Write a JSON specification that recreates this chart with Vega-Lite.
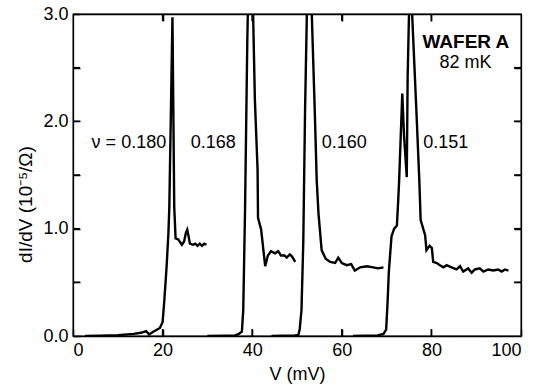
{
  "$schema": "https://vega.github.io/schema/vega-lite/v6.json",
  "width": 448,
  "height": 322,
  "autosize": "none",
  "padding": {"left": 73, "top": 14, "right": 16, "bottom": 49},
  "background": "white",
  "config": {
    "font": "Liberation Sans",
    "view": {"stroke": "black", "strokeWidth": 1.3},
    "axis": {
      "grid": false, "domain": true, "domainColor": "black", "domainWidth": 1.3,
      "ticks": true, "tickColor": "black", "tickSize": -7, "tickWidth": 1.5,
      "labelFont": "Liberation Sans", "labelFontSize": 18, "labelColor": "black", "labelPadding": 12,
      "titleFont": "Liberation Sans", "titleFontSize": 18, "titleFontWeight": "normal", "titleColor": "black"
    }
  },
  "datasets": {
    "curves": [
      {"s": "a", "x": 2.7, "y": 0.0}, {"s": "a", "x": 6, "y": 0.003}, {"s": "a", "x": 10, "y": 0.008},
      {"s": "a", "x": 13.5, "y": 0.02}, {"s": "a", "x": 15.2, "y": 0.03}, {"s": "a", "x": 16.3, "y": 0.045},
      {"s": "a", "x": 17.0, "y": 0.015}, {"s": "a", "x": 17.9, "y": 0.04}, {"s": "a", "x": 18.8, "y": 0.06},
      {"s": "a", "x": 19.4, "y": 0.075}, {"s": "a", "x": 20.0, "y": 0.13}, {"s": "a", "x": 20.4, "y": 0.34},
      {"s": "a", "x": 20.9, "y": 0.65}, {"s": "a", "x": 21.3, "y": 0.96}, {"s": "a", "x": 21.5, "y": 1.2},
      {"s": "a", "x": 22.2, "y": 2.97}, {"s": "a", "x": 22.6, "y": 1.2}, {"s": "a", "x": 22.9, "y": 0.91},
      {"s": "a", "x": 23.5, "y": 0.9}, {"s": "a", "x": 24.3, "y": 0.85}, {"s": "a", "x": 24.8, "y": 0.88},
      {"s": "a", "x": 25.2, "y": 0.96}, {"s": "a", "x": 25.5, "y": 0.99}, {"s": "a", "x": 25.8, "y": 0.93},
      {"s": "a", "x": 26.1, "y": 0.86}, {"s": "a", "x": 26.8, "y": 0.85}, {"s": "a", "x": 27.3, "y": 0.86},
      {"s": "a", "x": 27.8, "y": 0.84}, {"s": "a", "x": 28.3, "y": 0.86}, {"s": "a", "x": 28.8, "y": 0.84},
      {"s": "a", "x": 29.3, "y": 0.86}, {"s": "a", "x": 29.8, "y": 0.85},

      {"s": "b", "x": 30, "y": 0.0}, {"s": "b", "x": 34, "y": 0.003}, {"s": "b", "x": 36.2, "y": 0.005},
      {"s": "b", "x": 37.0, "y": 0.02}, {"s": "b", "x": 37.7, "y": 0.04}, {"s": "b", "x": 38.0, "y": 0.24},
      {"s": "b", "x": 38.4, "y": 1.17}, {"s": "b", "x": 38.9, "y": 2.73}, {"s": "b", "x": 39.6, "y": 4.3},
      {"s": "b", "x": 40.2, "y": 3.0}, {"s": "b", "x": 40.6, "y": 2.2}, {"s": "b", "x": 41.2, "y": 1.55},
      {"s": "b", "x": 41.3, "y": 1.1}, {"s": "b", "x": 42.0, "y": 0.99}, {"s": "b", "x": 42.5, "y": 0.8},
      {"s": "b", "x": 42.9, "y": 0.65}, {"s": "b", "x": 43.5, "y": 0.75}, {"s": "b", "x": 44.2, "y": 0.79},
      {"s": "b", "x": 45.1, "y": 0.77}, {"s": "b", "x": 45.8, "y": 0.79}, {"s": "b", "x": 46.4, "y": 0.75},
      {"s": "b", "x": 47.2, "y": 0.75}, {"s": "b", "x": 47.7, "y": 0.73}, {"s": "b", "x": 48.4, "y": 0.76},
      {"s": "b", "x": 48.9, "y": 0.74}, {"s": "b", "x": 49.6, "y": 0.69},

      {"s": "c", "x": 44.3, "y": 0.0}, {"s": "c", "x": 47, "y": 0.003}, {"s": "c", "x": 49.5, "y": 0.005},
      {"s": "c", "x": 50.3, "y": 0.01}, {"s": "c", "x": 50.6, "y": 0.06}, {"s": "c", "x": 51.0, "y": 0.24},
      {"s": "c", "x": 51.4, "y": 0.87}, {"s": "c", "x": 51.8, "y": 2.1}, {"s": "c", "x": 52.2, "y": 3.0},
      {"s": "c", "x": 52.6, "y": 3.9}, {"s": "c", "x": 53.3, "y": 3.0}, {"s": "c", "x": 54.0, "y": 2.05},
      {"s": "c", "x": 54.4, "y": 1.45}, {"s": "c", "x": 54.8, "y": 1.14}, {"s": "c", "x": 55.5, "y": 0.8},
      {"s": "c", "x": 56.4, "y": 0.72}, {"s": "c", "x": 57.4, "y": 0.69}, {"s": "c", "x": 58.5, "y": 0.68},
      {"s": "c", "x": 59.2, "y": 0.73}, {"s": "c", "x": 60.0, "y": 0.68}, {"s": "c", "x": 61.1, "y": 0.66},
      {"s": "c", "x": 62.1, "y": 0.67}, {"s": "c", "x": 62.9, "y": 0.61}, {"s": "c", "x": 64.1, "y": 0.64},
      {"s": "c", "x": 65.6, "y": 0.65}, {"s": "c", "x": 67.0, "y": 0.64}, {"s": "c", "x": 68.1, "y": 0.63},
      {"s": "c", "x": 69.3, "y": 0.64},

      {"s": "d", "x": 62.5, "y": 0.0}, {"s": "d", "x": 65, "y": 0.003}, {"s": "d", "x": 68, "y": 0.006},
      {"s": "d", "x": 69.3, "y": 0.02}, {"s": "d", "x": 69.9, "y": 0.06}, {"s": "d", "x": 70.2, "y": 0.3},
      {"s": "d", "x": 70.5, "y": 0.6}, {"s": "d", "x": 71.1, "y": 0.93}, {"s": "d", "x": 71.7, "y": 1.0},
      {"s": "d", "x": 72.3, "y": 1.03}, {"s": "d", "x": 72.6, "y": 1.27}, {"s": "d", "x": 72.8, "y": 1.45},
      {"s": "d", "x": 73.5, "y": 2.26}, {"s": "d", "x": 73.9, "y": 1.86}, {"s": "d", "x": 74.5, "y": 1.48},
      {"s": "d", "x": 74.7, "y": 2.42}, {"s": "d", "x": 75.0, "y": 3.0}, {"s": "d", "x": 75.22, "y": 3.43},
      {"s": "d", "x": 75.7, "y": 3.0}, {"s": "d", "x": 76.7, "y": 2.05}, {"s": "d", "x": 77.3, "y": 1.45},
      {"s": "d", "x": 77.6, "y": 1.08}, {"s": "d", "x": 78.6, "y": 0.94}, {"s": "d", "x": 78.9, "y": 0.8},
      {"s": "d", "x": 79.6, "y": 0.84}, {"s": "d", "x": 80.1, "y": 0.82}, {"s": "d", "x": 80.4, "y": 0.69},
      {"s": "d", "x": 81.2, "y": 0.68}, {"s": "d", "x": 81.9, "y": 0.66}, {"s": "d", "x": 82.7, "y": 0.64},
      {"s": "d", "x": 83.4, "y": 0.66}, {"s": "d", "x": 84.5, "y": 0.64}, {"s": "d", "x": 85.6, "y": 0.62},
      {"s": "d", "x": 86.4, "y": 0.65}, {"s": "d", "x": 87.1, "y": 0.6}, {"s": "d", "x": 88.2, "y": 0.63},
      {"s": "d", "x": 89.0, "y": 0.59}, {"s": "d", "x": 89.7, "y": 0.62}, {"s": "d", "x": 90.8, "y": 0.63},
      {"s": "d", "x": 91.6, "y": 0.6}, {"s": "d", "x": 92.7, "y": 0.62}, {"s": "d", "x": 93.8, "y": 0.61},
      {"s": "d", "x": 94.9, "y": 0.62}, {"s": "d", "x": 95.7, "y": 0.6}, {"s": "d", "x": 96.4, "y": 0.62},
      {"s": "d", "x": 97.2, "y": 0.61}
    ],
    "labels": [
      {"t": "ν = 0.180", "x": 20.8, "y": 1.80, "a": "right"},
      {"t": "0.168", "x": 26.3, "y": 1.80, "a": "left"},
      {"t": "0.160", "x": 55.5, "y": 1.80, "a": "left"},
      {"t": "0.151", "x": 78.2, "y": 1.80, "a": "left"},
      {"t": "82 mK", "x": 87.6, "y": 2.54, "a": "center"}
    ],
    "bold": [
      {"t": "WAFER A", "x": 87.7, "y": 2.74}
    ],
    "vticks": [
      {"x": 20, "y": 0}, {"x": 40, "y": 0}, {"x": 60, "y": 0}, {"x": 80, "y": 0},
      {"x": 20, "y": 3}, {"x": 40, "y": 3}, {"x": 60, "y": 3}, {"x": 80, "y": 3}
    ],
    "hticks": [
      {"x": 0, "y": 0.5}, {"x": 0, "y": 1}, {"x": 0, "y": 1.5}, {"x": 0, "y": 2}, {"x": 0, "y": 2.5},
      {"x": 100, "y": 0.5}, {"x": 100, "y": 1}, {"x": 100, "y": 1.5}, {"x": 100, "y": 2}, {"x": 100, "y": 2.5}
    ]
  },
  "layer": [
    {
      "data": {"name": "curves"},
      "mark": {"type": "line", "color": "black", "strokeWidth": 2.4, "clip": true},
      "encoding": {
        "x": {"field": "x", "type": "quantitative", "scale": {"domain": [0, 100], "nice": false},
          "axis": {"orient": "bottom", "values": [0, 20, 40, 60, 80, 100], "format": "d", "title": "V (mV)", "titlePadding": 6}},
        "y": {"field": "y", "type": "quantitative", "scale": {"domain": [0, 3], "nice": false},
          "axis": {"orient": "left", "values": [0, 0.5, 1, 1.5, 2, 2.5, 3], "labelExpr": "datum.value % 1 === 0 ? format(datum.value, '.1f') : ''", "title": "dI/dV (10⁻⁵/Ω)", "titleFontSize": 19, "titleX": -48, "titleY": 190, "titleBaseline": "middle"}},
        "detail": {"field": "s"}
      }
    },
    {
      "data": {"name": "labels"},
      "transform": [{"filter": "datum.a === 'left'"}],
      "mark": {"type": "text", "fontSize": 18, "color": "black", "baseline": "middle", "align": "left"},
      "encoding": {
        "x": {"field": "x", "type": "quantitative", "scale": {"domain": [0, 100], "nice": false},
          "axis": {"orient": "top", "values": [20, 40, 60, 80], "labels": false, "title": null}},
        "y": {"field": "y", "type": "quantitative", "scale": {"domain": [0, 3], "nice": false},
          "axis": {"orient": "right", "values": [0.5, 1, 1.5, 2, 2.5], "labels": false, "title": null}},
        "text": {"field": "t"}
      }
    },
    {
      "data": {"name": "vticks"},
      "mark": {"type": "tick", "orient": "vertical", "color": "black", "size": 14, "thickness": 1.5, "opacity": 1, "clip": true},
      "encoding": {
        "x": {"field": "x", "type": "quantitative", "axis": null},
        "y": {"field": "y", "type": "quantitative", "axis": null}
      }
    },
    {
      "data": {"name": "hticks"},
      "mark": {"type": "tick", "orient": "horizontal", "color": "black", "size": 14, "thickness": 1.5, "opacity": 1, "clip": true},
      "encoding": {
        "x": {"field": "x", "type": "quantitative", "axis": null},
        "y": {"field": "y", "type": "quantitative", "axis": null}
      }
    },
    {
      "data": {"name": "labels"},
      "transform": [{"filter": "datum.a === 'right'"}],
      "mark": {"type": "text", "fontSize": 18, "color": "black", "baseline": "middle", "align": "right"},
      "encoding": {
        "x": {"field": "x", "type": "quantitative", "axis": null},
        "y": {"field": "y", "type": "quantitative", "axis": null},
        "text": {"field": "t"}
      }
    },
    {
      "data": {"name": "labels"},
      "transform": [{"filter": "datum.a === 'center'"}],
      "mark": {"type": "text", "fontSize": 18, "color": "black", "baseline": "middle", "align": "center"},
      "encoding": {
        "x": {"field": "x", "type": "quantitative", "axis": null},
        "y": {"field": "y", "type": "quantitative", "axis": null},
        "text": {"field": "t"}
      }
    },
    {
      "data": {"name": "bold"},
      "mark": {"type": "text", "fontSize": 19, "fontWeight": "bold", "color": "black", "baseline": "middle", "align": "center"},
      "encoding": {
        "x": {"field": "x", "type": "quantitative", "axis": null},
        "y": {"field": "y", "type": "quantitative", "axis": null},
        "text": {"field": "t"}
      }
    }
  ],
  "resolve": {"axis": {"x": "independent", "y": "independent"}}
}
